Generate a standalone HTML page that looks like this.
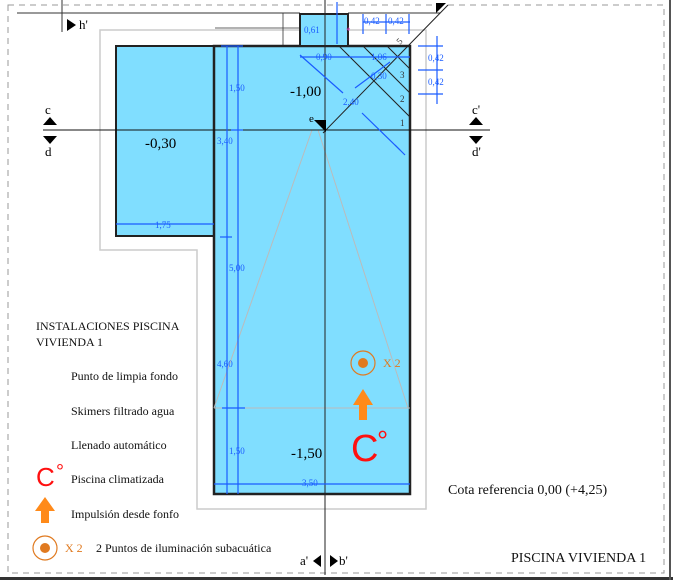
<!DOCTYPE html>
<html><head><meta charset="utf-8"><style>
html,body{margin:0;padding:0;background:#fff}
svg{display:block}
text{font-family:"Liberation Serif",serif}
text.sans{font-family:"Liberation Sans",sans-serif}
</style></head><body>
<svg width="673" height="580" viewBox="0 0 673 580" xmlns="http://www.w3.org/2000/svg">
<rect x="0" y="0" width="673" height="580" fill="#fff"/>
<path d="M8 5 H664 V573 H8 Z" fill="none" stroke="#999" stroke-width="1" stroke-dasharray="6,5"/>
<line x1="0" y1="578.5" x2="673" y2="578.5" stroke="#333" stroke-width="3"/>
<line x1="670" y1="0" x2="670" y2="580" stroke="#555" stroke-width="2"/>
<line x1="17" y1="13" x2="300" y2="13" stroke="#333" stroke-width="1"/>
<line x1="348" y1="13" x2="440" y2="13" stroke="#333" stroke-width="1"/>
<line x1="62" y1="0" x2="62" y2="32" stroke="#333" stroke-width="1"/>
<polygon points="67,19 67,31 76,25" fill="#000"/>
<text x="79" y="29" font-size="13">h'</text>
<path d="M100 30 H426 V509 H197 V250 H100 Z" fill="none" stroke="#ccc" stroke-width="1.5"/>
<line x1="283" y1="13" x2="283" y2="46" stroke="#333" stroke-width="0.8"/>
<line x1="215" y1="28" x2="300" y2="28" stroke="#333" stroke-width="0.8"/>
<rect x="116" y="46" width="98" height="190" fill="#80deff" stroke="#222" stroke-width="2"/>
<rect x="214" y="46" width="196" height="448" fill="#80deff" stroke="#222" stroke-width="2.5"/>
<rect x="300" y="14" width="48" height="32" fill="#80deff" stroke="#222" stroke-width="2"/>
<g stroke="#bbb" stroke-width="1" fill="none">
<line x1="312" y1="130" x2="214" y2="408"/>
<line x1="318" y1="130" x2="408" y2="408"/>
<line x1="214" y1="408" x2="410" y2="408"/>
</g>
<g stroke="#222" stroke-width="1">
<line x1="339" y1="46" x2="410" y2="117"/>
<line x1="363" y1="46" x2="410" y2="93"/>
<line x1="387" y1="46" x2="410" y2="69"/>
<line x1="323" y1="133" x2="448" y2="5"/>
</g>
<polygon points="436,3 446,3 436,13" fill="#000"/>
<g font-size="9" fill="#333">
<text x="398" y="44" transform="rotate(-45 400 42)">5</text>
<text x="400" y="78">3</text>
<text x="400" y="102">2</text>
<text x="400" y="126">1</text>
</g>
<line x1="325" y1="0" x2="325" y2="575" stroke="#222" stroke-width="1"/>
<line x1="43" y1="130" x2="490" y2="130" stroke="#111" stroke-width="1"/>
<polygon points="314,120 326,120 326,132" fill="#000"/>
<text x="309" y="122" font-size="11">e</text>
<polygon points="43,125 57,125 50,117" fill="#000"/>
<polygon points="43,136 57,136 50,144" fill="#000"/>
<text x="45" y="114" font-size="13">c</text>
<text x="45" y="156" font-size="13">d</text>
<polygon points="469,125 483,125 476,117" fill="#000"/>
<polygon points="469,136 483,136 476,144" fill="#000"/>
<text x="472" y="114" font-size="13">c'</text>
<text x="472" y="156" font-size="13">d'</text>
<polygon points="321,555 321,567 313,561" fill="#000"/>
<polygon points="330,555 330,567 338,561" fill="#000"/>
<text x="300" y="565" font-size="13">a'</text>
<text x="339" y="565" font-size="13">b'</text>
<text x="290" y="96" font-size="15">-1,00</text>
<text x="145" y="148" font-size="15">-0,30</text>
<text x="291" y="458" font-size="15">-1,50</text>
<g stroke="#1a5cff" stroke-width="1.2" fill="none">
<line x1="227" y1="46" x2="227" y2="494"/>
<line x1="238" y1="46" x2="238" y2="494"/>
<line x1="221" y1="46" x2="243" y2="46"/>
<line x1="231" y1="130" x2="243" y2="130"/>
<line x1="220" y1="237" x2="232" y2="237"/>
<line x1="222" y1="408" x2="245" y2="408"/>
<line x1="214" y1="484" x2="410" y2="484"/>
<line x1="116" y1="224" x2="214" y2="224"/>
<line x1="337" y1="2" x2="337" y2="44"/>
<line x1="300" y1="57" x2="410" y2="57"/>
<line x1="363" y1="22" x2="410" y2="22"/>
<line x1="363" y1="14" x2="363" y2="34"/>
<line x1="386" y1="14" x2="386" y2="34"/>
<line x1="409" y1="14" x2="409" y2="34"/>
<line x1="418" y1="46" x2="443" y2="46"/>
<line x1="418" y1="70" x2="443" y2="70"/>
<line x1="418" y1="94" x2="443" y2="94"/>
<line x1="437" y1="36" x2="437" y2="104"/>
<line x1="300" y1="55" x2="343" y2="93"/>
<line x1="362" y1="113" x2="400" y2="150"/>
<line x1="395" y1="145" x2="405" y2="155"/>
<line x1="355" y1="88" x2="390" y2="62"/>
</g>
<g font-size="9" fill="#1a5cff">
<text x="229" y="91">1,50</text>
<text x="217" y="144">3,40</text>
<text x="229" y="271">5,00</text>
<text x="217" y="367">4,60</text>
<text x="229" y="454">1,50</text>
<text x="302" y="486">3,50</text>
<text x="155" y="228">1,75</text>
<text x="304" y="33">0,61</text>
<text x="316" y="60">0,90</text>
<text x="371" y="60">1,06</text>
<text x="371" y="79">0,30</text>
<text x="343" y="105">2,40</text>
<text x="364" y="24">0,42</text>
<text x="388" y="24">0,42</text>
<text x="428" y="61">0,42</text>
<text x="428" y="85">0,42</text>
</g>
<text x="346" y="34" font-size="9" fill="#e040c0">*</text>
<circle cx="363" cy="363" r="12" fill="none" stroke="#e07a20" stroke-width="1.2"/>
<circle cx="363" cy="363" r="5" fill="#e07a20"/>
<text x="383" y="367" font-size="12" fill="#e07a20">X 2</text>
<polygon points="363,389 353,405 359,405 359,420 367,420 367,405 373,405" fill="#ff8a1a"/>
<text class="sans" x="351" y="461" font-size="38" fill="#ff1010">C</text>
<text class="sans" x="377" y="450" font-size="28" fill="#ff1010">°</text>
<g font-size="12" fill="#111">
<text x="36" y="330">INSTALACIONES PISCINA</text>
<text x="36" y="346">VIVIENDA 1</text>
<text x="71" y="380">Punto de limpia fondo</text>
<text x="71" y="415">Skimers filtrado agua</text>
<text x="71" y="449">Llenado automático</text>
<text x="71" y="483">Piscina climatizada</text>
<text x="71" y="518">Impulsión desde fonfo</text>
<text x="96" y="552">2 Puntos de iluminación subacuática</text>
</g>
<text class="sans" x="36" y="486" font-size="26" fill="#ff1010">C</text>
<text class="sans" x="56" y="478" font-size="20" fill="#ff1010">°</text>
<polygon points="45,497 35,511 41,511 41,523 49,523 49,511 55,511" fill="#ff8a1a"/>
<circle cx="45" cy="548" r="12" fill="none" stroke="#e07a20" stroke-width="1.2"/>
<circle cx="45" cy="548" r="5" fill="#e07a20"/>
<text x="65" y="552" font-size="12" fill="#e07a20">X 2</text>
<text x="448" y="494" font-size="14" fill="#111">Cota referencia 0,00 (+4,25)</text>
<text x="511" y="562" font-size="14" fill="#111">PISCINA VIVIENDA 1</text>
</svg>
</body></html>
